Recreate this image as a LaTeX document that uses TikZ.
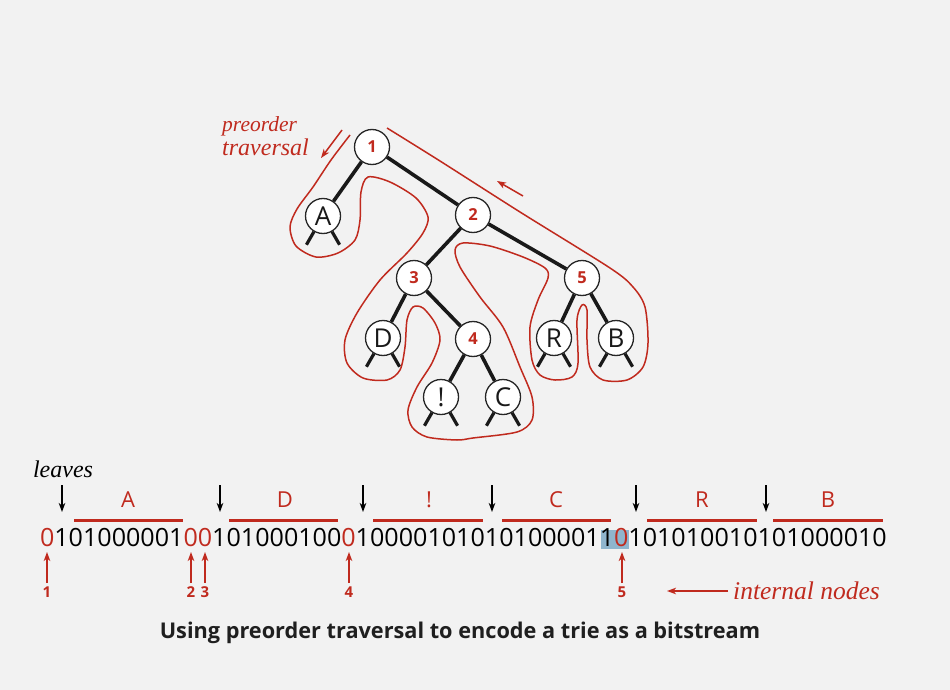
\documentclass[tikz,border=0pt]{standalone}
\usepackage{fontspec}
\setsansfont{Open Sans}
\newfontfamily\notefont{Liberation Serif}
\usetikzlibrary{positioning,arrows.meta}

\definecolor{trieRed}{RGB}{192,42,30}
\definecolor{pageGray}{RGB}{242,242,242}
\definecolor{selBlue}{RGB}{143,181,206}

\tikzset{
  trienode/.style={circle, draw=black!85, line width=1.3pt, fill=white,
    minimum size=35pt, inner sep=0pt, text=trieRed,
    font=\sffamily\bfseries\fontsize{16.5}{16.5}\selectfont},
  leafnode/.style={trienode, text=black!90,
    font=\sffamily\fontsize{26}{26}\selectfont},
  link/.style={line width=3.6pt, black!90},
  stub/.style={line width=3.2pt, black!90},
  tour/.style={trieRed, line width=1.5pt},
  bits/.style={inner sep=0pt, outer sep=0pt,
    font=\sffamily\fontsize{25.1}{25.1}\selectfont},
  charlbl/.style={text=trieRed, font=\sffamily\fontsize{22}{22}\selectfont},
  bar/.style={trieRed, line width=3pt},
  note/.style={font=\notefont\itshape\fontsize{24}{24}\selectfont}
}

\begin{document}
\begin{tikzpicture}[x=1pt,y=-1pt,>={Stealth[length=9pt,width=6.5pt,inset=2.5pt]}]
    \useasboundingbox[fill=pageGray] (0,0) rectangle (950,690);

    % the trie
    \node[trienode] at (372,147) (n1) {1};
    \node[leafnode] at (323,216) (A) {A};
    \node[trienode] at (473,215) (n2) {2};
    \node[trienode] at (414,278) (n3) {3};
    \node[trienode] at (582,278) (n5) {5};
    \node[leafnode] at (383,338) (D) {D};
    \node[trienode] at (473,339) (n4) {4};
    \node[leafnode] at (554,338) (R) {R};
    \node[leafnode] at (616,338) (B) {B};
    \node[leafnode] at (441,397) (bang) {!};
    \node[leafnode] at (503,397) (C) {C};

    \draw[link] (n1) -- (A);
    \draw[link] (n1) -- (n2);
    \draw[link] (n2) -- (n3);
    \draw[link] (n2) -- (n5);
    \draw[link] (n3) -- (D);
    \draw[link] (n3) -- (n4);
    \draw[link] (n4) -- (bang);
    \draw[link] (n4) -- (C);
    \draw[link] (n5) -- (R);
    \draw[link] (n5) -- (B);

    \foreach \l in {A,D,bang,C,R,B} {
        \draw[stub] (\l.-120) -- ++(-120:15pt);
        \draw[stub] (\l.-60) -- ++(-60:15pt);
    }

    % traversal
    \draw[tour] plot[smooth] coordinates {(350,135) (331,160) (313,187)
        (297,209) (290,227) (296,246) (316,257) (338,253) (355,240) (360,220)
        (361,192) (368,177) (390,182) (416,198) (428,217) (423,233) (407,253)
        (380,280) (357,313) (345,340) (347,363) (363,378) (387,380) (400,370)
        (405,347) (407,320) (413,307) (423,308) (435,323) (440,340) (432,363)
        (417,387) (408,410) (412,427) (427,437) (457,440) (473,438) (517,432)
        (532,420) (532,397) (520,367) (503,327) (480,297) (460,267) (455,250)
        (463,243) (490,246) (523,257) (545,268) (548,278) (538,300) (530,327)
        (532,360) (540,375) (555,380) (572,377) (578,363) (577,320) (582,305)
        (587,310) (587,340) (590,367) (603,380) (627,380) (643,367) (648,343)
        (645,307) (633,287) (610,268) (520,212) (440,161) (387,128)};

    \coordinate (t1) at (342,130);
    \coordinate (t2) at (321,158);
    \coordinate (t3) at (523,196);
    \coordinate (t4) at (497,181);
    \draw[->, tour] (t1) -- (t2);
    \draw[->, tour] (t3) -- (t4);

    \node[note, text=trieRed, align=left, anchor=north west, inner sep=0pt]
        at (222,116) (trav) {\fontsize{21.5}{25.5}\selectfont preorder\\traversal};

    % bitstream
    \fill[selBlue] (601,530) rectangle (629,549);
    \node[bits, text=trieRed, anchor=west] at (40,538) (b0) {0};
    \node[bits, right=0pt of b0] (b1) {101000001};
    \node[bits, text=trieRed, right=0pt of b1] (b2) {00};
    \node[bits, right=0pt of b2] (b3) {101000100};
    \node[bits, text=trieRed, right=0pt of b3] (b4) {0};
    \node[bits, right=0pt of b4] (b5) {100001010101000011};
    \node[bits, text=trieRed, right=0pt of b5] (b6) {0};
    \node[bits, right=0pt of b6] (b7) {101010010101000010};

    % characters
    \node[charlbl] at (128,500) (cA) {A};
    \node[charlbl] at (285,500) (cD) {D};
    \node[charlbl] at (429,500) (cbang) {!};
    \node[charlbl] at (556,500) (cC) {C};
    \node[charlbl] at (702,500) (cR) {R};
    \node[charlbl] at (828,500) (cB) {B};
    \draw[bar] (74,520) -- (183,520);
    \draw[bar] (229,520) -- (338,520);
    \draw[bar] (373,520) -- (483,520);
    \draw[bar] (502,520) -- (611,520);
    \draw[bar] (647,520) -- (757,520);
    \draw[bar] (773,520) -- (883,520);

    % leaves
    \node[note] at (63,469) (leaves) {leaves};
    \foreach \x in {62,220,363,492,636,766} {
        \draw[->, line width=1.2pt] (\x,485) -- (\x,512);
    }

    % internal nodes
    \foreach \x/\n in {47/1,191/2,205/3,349/4,622/5} {
        \node[text=trieRed, font=\sffamily\bfseries\fontsize{15}{15}\selectfont]
            at (\x,592) (k\n) {\n};
        \draw[->, tour] (k\n.north) -- (\x,552);
    }
    \node[note, text=trieRed, anchor=west, inner sep=0pt] at (733,591)
        (inl) {\fontsize{25.5}{25.5}\selectfont internal nodes};
    \coordinate (inr) at (667,591);
    \draw[->, tour] (inl.west) ++(-5,0) -- (inr);

    \node[font=\sffamily\bfseries\fontsize{21.7}{21.7}\selectfont, text=black!88]
        at (460,633) (cap) {Using preorder traversal to encode a trie as a bitstream};
\end{tikzpicture}
\end{document}
